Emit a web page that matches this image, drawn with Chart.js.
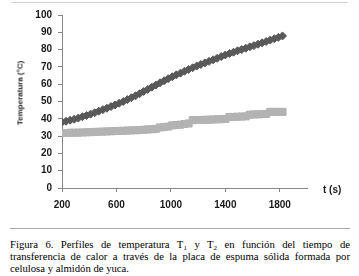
<!DOCTYPE html>
<html>
<head>
<meta charset="utf-8">
<script src="https://cdn.jsdelivr.net/npm/chart.js@4.4.1/dist/chart.umd.min.js"></script>
<style>
  html, body { margin: 0; padding: 0; background: #fff; }
  body { width: 359px; height: 276px; position: relative; overflow: hidden; }
  #wrap { position: relative; width: 359px; height: 228px; }
  #chart { display: block; }
  .rule { height: 1px; }
  #ytitle {
    position: absolute; left: 20px; top: 93px;
    transform: translate(-50%, -50%) rotate(-90deg);
    font-family: "Liberation Sans", Arial, sans-serif; font-weight: bold; font-size: 8px;
    color: #1a1a1a; white-space: nowrap;
  }
  #xtitle {
    position: absolute; left: 323px; top: 184px;
    font-family: "Liberation Sans", Arial, sans-serif; font-weight: bold; font-size: 10px;
    color: #1a1a1a; white-space: nowrap;
  }
  #caption {
    margin: 9px 0 0 10px; width: 340px;
    font-family: "Liberation Serif", "Times New Roman", serif; font-size: 10.7px; line-height: 12px;
    color: #000;
  }
  #caption div { text-align: justify; text-align-last: justify; white-space: nowrap; height: 12px; }
  #caption div.last { text-align-last: left; }
  sub { font-size: 7px; vertical-align: -2px; line-height: 0; }
</style>
</head>
<body>
<div class="rule" style="position:absolute; left:11px; top:2px; width:337px; background:#d4d4d4;"></div>
<div id="wrap">
  <canvas id="chart" width="359" height="228"></canvas>
  <div id="ytitle">Temperatura (°C)</div>
  <div id="xtitle">t (s)</div>
</div>
<div class="rule" style="margin-left:10px; width:340px; background:#a8a8a8;"></div>
<div id="caption">
  <div>Figura 6. Perfiles de temperatura T<sub>1</sub> y T<sub>2</sub> en función del tiempo de</div>
  <div>transferencia de calor a través de la placa de espuma sólida formada por</div>
  <div class="last">celulosa y almidón de yuca.</div>
</div>
<script>
// time (s)
var times = [200, 230, 260, 290, 320, 350, 380, 410, 440, 470, 500, 530, 560, 590, 620, 650,
  680, 710, 740, 770, 800, 830, 860, 890, 920, 950, 980, 1010, 1040, 1070, 1100, 1130,
  1160, 1190, 1220, 1250, 1280, 1310, 1340, 1370, 1400, 1430, 1460, 1490, 1520, 1550,
  1580, 1610, 1640, 1670, 1700, 1730, 1760, 1790, 1820];
// T1 (dark diamonds)
var t1 = [38.0, 38.6, 39.2, 39.8, 40.4, 41.2, 41.9, 42.7, 43.5, 44.4, 45.3, 46.1, 47.1, 48.0, 49.0, 50.0,
  51.1, 52.2, 53.3, 54.5, 55.8, 57.0, 58.3, 59.5, 60.8, 62.0, 63.2, 64.3, 65.4, 66.4, 67.5, 68.5,
  69.5, 70.5, 71.4, 72.3, 73.2, 74.1, 75.0, 76.0, 76.9, 77.7, 78.5, 79.3, 80.0, 80.8,
  81.6, 82.3, 83.1, 83.9, 84.7, 85.5, 86.3, 87.1, 87.9];
// T2 (light squares)
var t2 = [31.8, 31.8, 31.9, 32.0, 32.0, 32.1, 32.2, 32.3, 32.4, 32.5, 32.6, 32.7, 32.8, 32.9, 33.0, 33.1,
  33.2, 33.3, 33.4, 33.5, 33.7, 33.8, 34.0, 34.2, 35.0, 35.2, 35.5, 36.2, 36.4, 36.6, 37.0, 37.3,
  39.2, 39.3, 39.3, 39.4, 39.5, 39.6, 39.7, 39.8, 39.9, 41.0, 41.1, 41.2, 41.3, 41.4,
  42.4, 42.5, 42.6, 42.7, 42.8, 44.0, 44.0, 44.0, 44.0];
var xTicks = [200, 600, 1000, 1400, 1800];

function pts(ys) {
  return times.map(function (t, i) { return { x: t, y: ys[i] }; });
}

var axisGrey = '#868686';
var tickFont = { family: 'Liberation Sans', size: 10, weight: 'bold' };

var ctx = document.getElementById('chart').getContext('2d');
var myChart = new Chart(ctx, {
  type: 'scatter',
  data: {
    datasets: [{
      label: 'T1',
      data: pts(t1),
      showLine: true,
      borderColor: '#595959',
      backgroundColor: '#595959',
      borderWidth: 2,
      pointStyle: 'rectRot',
      pointRadius: 4,
      pointBorderWidth: 1
    }, {
      label: 'T2',
      data: pts(t2),
      showLine: true,
      borderColor: '#b3b3b3',
      backgroundColor: '#b3b3b3',
      borderWidth: 2,
      pointStyle: 'rect',
      pointRadius: 5,
      pointBorderWidth: 1
    }]
  },
  options: {
    responsive: false,
    animation: false,
    devicePixelRatio: 1,
    layout: { padding: { left: 0, right: 52, top: 15, bottom: 0 } },
    plugins: { legend: { display: false }, tooltip: { enabled: false } },
    scales: {
      x: {
        type: 'linear',
        min: 200,
        max: 2000,
        afterBuildTicks: function (scale) {
          scale.ticks = xTicks.map(function (v) { return { value: v }; });
        },
        afterFit: function (scale) { scale.height = 40; },
        border: { display: true, color: axisGrey, width: 1 },
        grid: { drawOnChartArea: false, drawTicks: true, tickLength: 4, color: axisGrey },
        ticks: {
          font: tickFont, color: '#1a1a1a', padding: 7, maxRotation: 0, autoSkip: false,
          callback: function (v) { return String(v); }
        }
      },
      y: {
        min: 0,
        max: 100,
        afterFit: function (scale) { scale.width = 62; },
        border: { display: true, color: axisGrey, width: 1 },
        grid: { drawOnChartArea: false, drawTicks: true, tickLength: 4, color: axisGrey },
        ticks: { stepSize: 10, font: tickFont, color: '#1a1a1a', padding: 6 }
      }
    }
  }
});
</script>
</body>
</html>
